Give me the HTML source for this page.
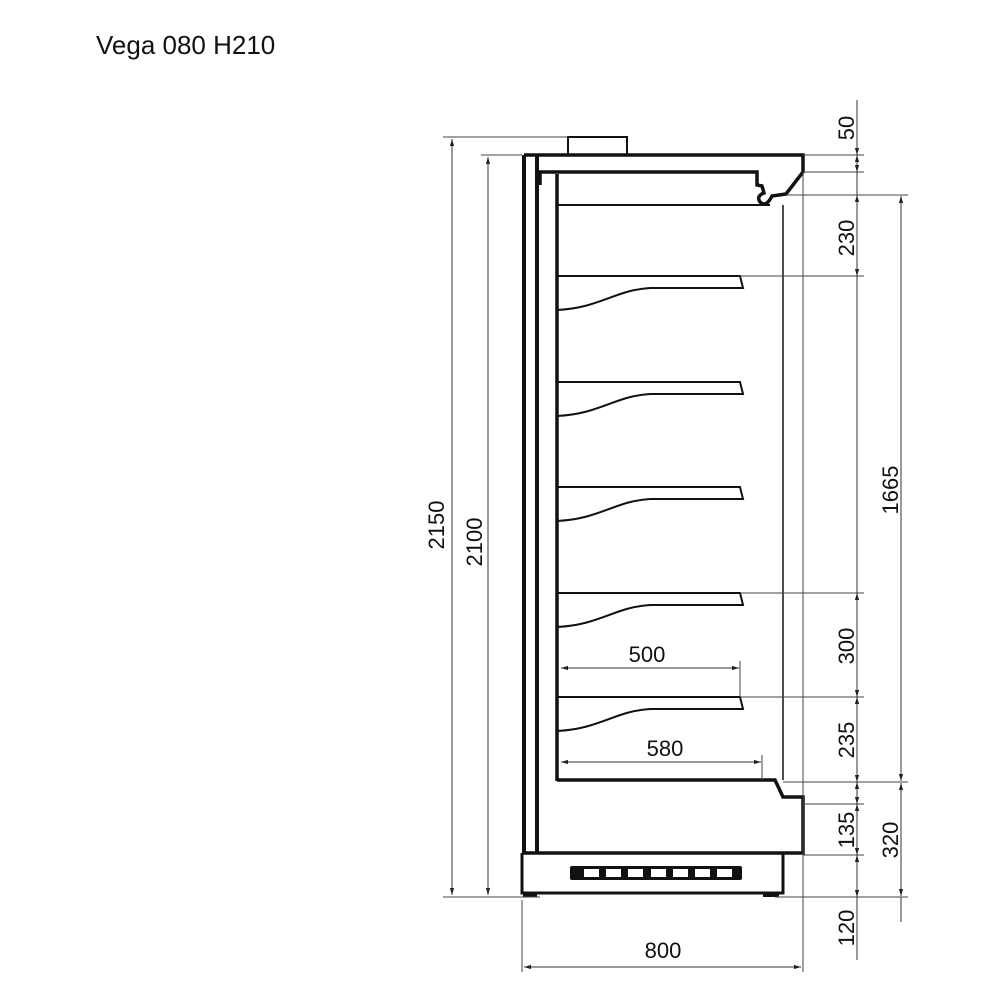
<!DOCTYPE html>
<html><head><meta charset="utf-8"><style>
html,body{margin:0;padding:0;background:#fff;}
svg{display:block}
text{font-family:"Liberation Sans",sans-serif;fill:#111}
</style></head><body>
<svg width="1000" height="1000" viewBox="0 0 1000 1000" xmlns="http://www.w3.org/2000/svg">
<defs>
<marker id="a" viewBox="0 0 10 10" refX="10" refY="5" markerWidth="7" markerHeight="7" orient="auto-start-reverse"><path d="M0,2 L10,5 L0,8 z" fill="#222"/></marker>
</defs>
<text x="96" y="54" font-size="26">Vega 080 H210</text>

<g stroke="#111" fill="none" stroke-linejoin="miter">
<rect x="568" y="137" width="59" height="18" stroke-width="2"/>
<line x1="524" y1="155" x2="524" y2="853" stroke-width="4"/>
<line x1="537" y1="155" x2="537" y2="853" stroke-width="4"/>
<path d="M524,155 L803,155 L803,172 L786,194 L772,196 Q766,208 760,202 Q756,196 764,193 L762,186 L757,185 L757,172 L540,172 L540,185" stroke-width="3.5"/>
<line x1="557" y1="174" x2="557" y2="781" stroke-width="3.5"/>
<line x1="557" y1="205" x2="770" y2="205" stroke-width="2"/>
<line x1="783" y1="205" x2="783" y2="780" stroke-width="1.5"/>
<path d="M557,780 L775,780 L783,797 L803,797 L803,853 L522,853" stroke-width="3.5"/>
<path d="M522,853 L522,893 L783,893 L783,853" stroke-width="3"/>
<rect x="523" y="892" width="14" height="5" fill="#111" stroke="none"/>
<rect x="763" y="892" width="16" height="5" fill="#111" stroke="none"/>
</g>
<g fill="#111">
<rect x="570" y="866" width="172" height="14" rx="2"/>
</g>
<g fill="#fff">
<rect x="584" y="869" width="15" height="8"/>
<rect x="606" y="869" width="15" height="8"/>
<rect x="628" y="869" width="15" height="8"/>
<rect x="651" y="869" width="15" height="8"/>
<rect x="673" y="869" width="15" height="8"/>
<rect x="695" y="869" width="15" height="8"/>
<rect x="717" y="869" width="15" height="8"/>
</g>

<g stroke="#111" fill="none" stroke-width="2">
<path d="M557,276 L740,276 L743,288 L650,288 C615,290 600,308 557,310"/>
<path d="M557,382 L740,382 L743,394 L650,394 C615,396 600,414 557,416"/>
<path d="M557,487 L740,487 L743,499 L650,499 C615,501 600,519 557,521"/>
<path d="M557,593 L740,593 L743,605 L650,605 C615,607 600,625 557,627"/>
<path d="M557,697 L740,697 L743,709 L650,709 C615,711 600,729 557,731"/>
</g>

<g stroke="#444" stroke-width="1">
<line x1="443" y1="137" x2="568" y2="137"/>
<line x1="481" y1="155" x2="522" y2="155"/>
<line x1="443" y1="897" x2="540" y2="897"/>
<line x1="803" y1="155" x2="864" y2="155"/>
<line x1="803" y1="172" x2="864" y2="172"/>
<line x1="786" y1="195" x2="908" y2="195"/>
<line x1="740" y1="276" x2="864" y2="276"/>
<line x1="740" y1="593" x2="864" y2="593"/>
<line x1="740" y1="697" x2="864" y2="697"/>
<line x1="783" y1="782" x2="908" y2="782"/>
<line x1="803" y1="804" x2="864" y2="804"/>
<line x1="803" y1="855" x2="864" y2="855"/>
<line x1="775" y1="897" x2="908" y2="897"/>
<line x1="803" y1="172" x2="803" y2="972"/>
<line x1="522" y1="900" x2="522" y2="972"/>
<line x1="740" y1="661" x2="740" y2="697"/>
<line x1="762" y1="755" x2="762" y2="780"/>
</g>

<g stroke="#333" stroke-width="1" fill="none">
<line x1="452" y1="139" x2="452" y2="895" marker-start="url(#a)" marker-end="url(#a)"/>
<line x1="488" y1="157" x2="488" y2="895" marker-start="url(#a)" marker-end="url(#a)"/>
<line x1="857" y1="100" x2="857" y2="155" marker-end="url(#a)"/>
<line x1="857" y1="155" x2="857" y2="172" marker-start="url(#a)" marker-end="url(#a)"/>
<line x1="857" y1="172" x2="857" y2="195"/>
<line x1="857" y1="195" x2="857" y2="276" marker-start="url(#a)" marker-end="url(#a)"/>
<line x1="857" y1="276" x2="857" y2="593"/>
<line x1="857" y1="593" x2="857" y2="697" marker-start="url(#a)" marker-end="url(#a)"/>
<line x1="857" y1="697" x2="857" y2="782" marker-start="url(#a)" marker-end="url(#a)"/>
<line x1="857" y1="782" x2="857" y2="804" marker-start="url(#a)" marker-end="url(#a)"/>
<line x1="857" y1="804" x2="857" y2="855" marker-start="url(#a)" marker-end="url(#a)"/>
<line x1="857" y1="855" x2="857" y2="897" marker-start="url(#a)" marker-end="url(#a)"/>
<line x1="857" y1="897" x2="857" y2="960"/>
<line x1="901" y1="196" x2="901" y2="781" marker-start="url(#a)" marker-end="url(#a)"/>
<line x1="901" y1="783" x2="901" y2="896" marker-start="url(#a)" marker-end="url(#a)"/>
<line x1="901" y1="897" x2="901" y2="922"/>
<line x1="524" y1="967" x2="801" y2="967" marker-start="url(#a)" marker-end="url(#a)"/>
<line x1="561" y1="668" x2="739" y2="668" marker-start="url(#a)" marker-end="url(#a)"/>
<line x1="561" y1="762" x2="761" y2="762" marker-start="url(#a)" marker-end="url(#a)"/>
</g>

<g font-size="22" text-anchor="middle">
<text x="663" y="958">800</text>
<text x="647" y="662">500</text>
<text x="665" y="756">580</text>
<text transform="translate(444,525) rotate(-90)">2150</text>
<text transform="translate(482,542) rotate(-90)">2100</text>
<text transform="translate(854,128) rotate(-90)">50</text>
<text transform="translate(854,238) rotate(-90)">230</text>
<text transform="translate(854,646) rotate(-90)">300</text>
<text transform="translate(854,740) rotate(-90)">235</text>
<text transform="translate(854,830) rotate(-90)">135</text>
<text transform="translate(854,928) rotate(-90)">120</text>
<text transform="translate(898,490) rotate(-90)">1665</text>
<text transform="translate(898,840) rotate(-90)">320</text>
</g>
</svg>
</body></html>
